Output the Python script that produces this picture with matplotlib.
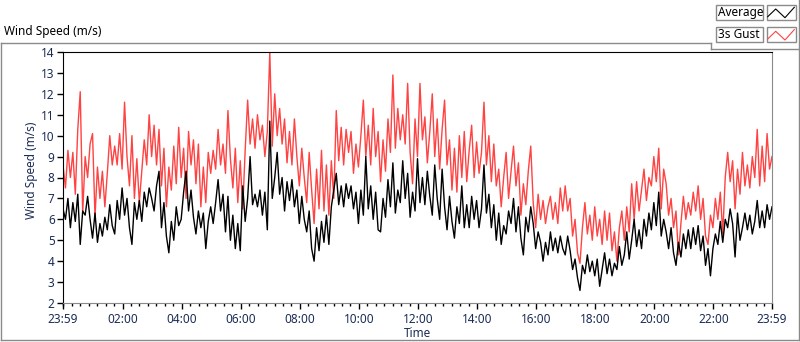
import matplotlib
matplotlib.use("Agg")
import matplotlib.pyplot as plt
import numpy as np
from matplotlib.lines import Line2D
from matplotlib.patches import Rectangle

plt.rcParams['font.family'] = ['Noto Sans', 'DejaVu Sans']

### Data: one reading every 5 minutes from 23:59 to 23:59 (one row = one hour)
step_min = 5

avg_speed = [
    6.5, 6.0, 7.0, 5.6, 6.8, 5.9, 7.2, 4.8, 6.4, 6.2, 7.1, 6.0,
    5.1, 6.3, 4.9, 5.8, 5.2, 6.1, 5.5, 6.7, 5.7, 5.3, 6.9, 6.0,
    7.5, 6.2, 7.0, 5.6, 4.8, 6.8, 6.0, 6.9, 5.9, 7.3, 6.6, 7.5,
    7.0, 6.4, 7.6, 8.3, 5.6, 6.8, 5.2, 4.4, 5.9, 5.0, 6.6, 5.7,
    6.0, 7.3, 8.3, 6.4, 7.4, 6.1, 5.3, 6.4, 5.6, 6.3, 4.6, 5.9,
    6.6, 5.8, 6.8, 7.9, 6.4, 7.2, 5.4, 7.1, 5.0, 6.2, 4.6, 5.8,
    4.5, 7.6, 5.9, 7.0, 9.0, 6.7, 7.2, 6.6, 7.4, 6.2, 7.3, 5.5,
    10.7, 7.0, 8.0, 9.2, 7.2, 8.0, 6.4, 7.8, 6.9, 7.9, 6.6, 7.4,
    5.8, 7.1, 6.0, 5.4, 6.4, 4.6, 4.0, 5.6, 4.5, 5.9, 4.9, 6.2,
    4.8, 6.6, 7.4, 8.2, 6.7, 7.6, 6.6, 7.7, 7.0, 7.6, 6.5, 7.3,
    5.8, 7.4, 6.2, 9.0, 6.5, 7.6, 6.0, 7.3, 5.5, 5.4, 7.0, 6.1,
    7.9, 6.6, 8.7, 6.3, 7.4, 6.8, 8.8, 7.0, 8.2, 6.1, 7.3, 6.4,
    8.9, 6.8, 8.0, 6.7, 8.3, 7.1, 6.2, 8.6, 7.0, 6.0, 8.4, 6.6,
    5.5, 7.1, 5.9, 5.1, 6.6, 5.8, 7.6, 5.6, 6.7, 5.6, 7.1, 6.0,
    6.9, 5.6, 6.5, 8.6, 6.3, 7.2, 5.6, 6.7, 5.0, 6.3, 4.8, 5.7,
    5.3, 6.4, 5.8, 7.0, 5.4, 6.6, 5.1, 4.3, 6.1, 5.4, 6.6, 5.8,
    4.6, 5.4, 4.9, 4.0, 4.9, 4.3, 5.4, 4.5, 5.1, 4.4, 5.2, 4.6,
    4.3, 5.2, 4.5, 3.6, 4.1, 3.2, 2.6, 3.8, 3.4, 4.3, 3.5, 4.0,
    3.3, 4.1, 2.8, 3.6, 4.4, 3.4, 4.1, 3.3, 3.9, 3.6, 4.7, 3.8,
    4.3, 5.4, 4.1, 5.0, 6.0, 4.7, 5.5, 4.6, 6.0, 5.2, 6.3, 5.5,
    6.8, 5.7, 7.3, 5.2, 6.0, 5.4, 4.6, 5.6, 4.4, 3.8, 4.9, 4.2,
    5.3, 4.6, 5.5, 4.6, 5.6, 4.8, 5.7, 4.5, 5.2, 3.8, 4.6, 3.3,
    4.6, 5.3, 4.8, 5.9, 4.9, 6.0, 5.6, 6.5, 5.8, 4.2, 6.3, 5.0,
    5.6, 6.3, 5.5, 6.2, 5.3, 5.9, 6.9, 5.6, 6.4, 5.6, 6.7, 6.0,
    6.6,
]

gust_speed = [
    8.6, 7.5, 9.3, 8.0, 9.2, 7.2, 10.3, 12.1, 6.3, 9.0, 8.0, 9.6,
    10.1, 6.1, 8.5, 7.0, 8.3, 6.6, 8.2, 10.0, 8.6, 9.5, 8.6, 10.1,
    8.4, 11.6, 9.0, 7.6, 10.0, 7.0, 8.9, 6.8, 8.3, 9.8, 8.6, 11.0,
    9.0, 10.5, 8.6, 10.3, 7.6, 9.4, 6.6, 8.5, 7.4, 9.5, 7.7, 10.4,
    8.0, 9.4, 7.0, 10.2, 8.6, 9.8, 7.7, 9.6, 6.6, 8.5, 6.8, 9.2,
    8.2, 9.3, 8.4, 10.3, 8.6, 9.6, 8.2, 11.2, 8.9, 7.5, 9.4, 6.8,
    8.8, 6.5, 9.3, 11.7, 9.6, 10.8, 9.4, 11.0, 9.8, 10.5, 9.0, 10.2,
    14.0, 9.5, 12.0, 10.0, 11.3, 9.6, 10.8, 8.7, 10.2, 8.6, 10.8, 9.0,
    7.6, 9.4, 8.0, 6.8, 9.2, 7.4, 5.8, 8.4, 6.5, 9.3, 6.4, 8.6,
    6.2, 8.8, 7.0, 11.2, 8.8, 10.4, 8.6, 10.3, 9.2, 10.2, 8.2, 9.6,
    8.5, 10.0, 11.7, 9.0, 10.5, 8.6, 11.3, 9.0, 10.2, 7.8, 9.8, 8.3,
    10.8, 9.2, 12.9, 9.4, 11.3, 9.8, 11.0, 9.6, 12.5, 9.2, 7.7, 10.8,
    9.0, 12.5, 9.8, 10.9, 8.7, 10.2, 12.0, 9.0, 10.8, 8.4, 10.3, 11.7,
    8.6, 9.8, 7.4, 9.4, 7.3, 10.0, 8.0, 10.2, 7.8, 9.3, 10.5, 8.0,
    9.7, 8.2, 9.2, 11.6, 8.6, 10.0, 7.8, 9.6, 7.6, 8.4, 6.6, 8.0,
    9.2, 7.0, 8.3, 9.5, 7.6, 8.7, 6.2, 7.7, 6.7, 8.3, 9.5, 6.8,
    5.6, 7.2, 6.0, 6.9, 5.8, 6.6, 7.1, 6.0, 6.8, 5.8, 7.5, 6.4,
    7.6, 6.4, 7.0, 5.2, 6.0, 4.4, 3.9, 5.6, 6.8, 5.3, 6.2, 5.0,
    6.6, 5.2, 6.0, 4.8, 6.4, 5.0, 6.3, 4.5, 5.4, 4.0, 5.6, 6.4,
    5.0, 6.6, 5.4, 7.7, 6.0, 7.8, 6.4, 7.4, 8.4, 6.9, 8.0, 7.6,
    9.0, 7.8, 9.4, 6.5, 8.4, 7.7, 6.2, 7.0, 5.6, 6.4, 4.3, 5.8,
    7.1, 6.0, 6.8, 6.2, 7.3, 6.4, 7.6, 6.0, 7.0, 5.2, 4.8, 6.2,
    5.6, 7.0, 6.0, 7.3, 5.3, 8.0, 9.2, 7.8, 8.8, 6.5, 8.4, 7.2,
    9.2, 7.6, 8.6, 7.5, 9.0, 8.0, 10.3, 7.6, 9.5, 7.8, 10.1, 8.4,
    9.0,
]

tick_labels = ['23:59', '02:00', '04:00', '06:00', '08:00', '10:00', '12:00',
               '14:00', '16:00', '18:00', '20:00', '22:00', '23:59']

# hours since 23:59
hours = np.arange(len(avg_speed)) * step_min / 60.0
tick_pos = [0.0] + [h + 1 / 60 for h in range(2, 24, 2)] + [24.0]
minor_pos = [1 / 60 + k * 2 / 7 for k in range(0, 84)]

navy = '#1c2c55'
red = '#ff4242'
W, H = 800, 342


def fx(px):
    return px / W


def fy(py):
    return 1 - py / H


fig = plt.figure(figsize=(8, 3.42), dpi=100)
fig.patch.set_facecolor('white')
ax = fig.add_axes([fx(63), fy(303), fx(772) - fx(63), fy(52) - fy(303)])

ax.plot(hours, gust_speed, color=red, linewidth=1.0)
ax.plot(hours, avg_speed, color='black', linewidth=1.0)

ax.set_xlim(0, 24)
ax.set_ylim(2, 14)
ax.set_yticks(range(2, 15))
ax.set_xticks(tick_pos)
ax.set_xticklabels(tick_labels)
ax.set_xticks(minor_pos, minor=True)
ax.tick_params(axis='both', which='major', direction='out', length=4, width=1,
               colors='black', labelcolor=navy, labelsize=8.5)
ax.tick_params(axis='x', which='minor', direction='out', length=2.5, width=1, color='black')
ax.tick_params(axis='x', pad=3)
ax.tick_params(axis='y', pad=2)

for side in ['left', 'top']:
    ax.spines[side].set_color('black')
for side in ['right', 'bottom']:
    ax.spines[side].set_color('#8a8a8a')

ax.set_xlabel('Time', color=navy, fontsize=8.5, labelpad=1)
fig.text(fx(32), fy(170), 'Wind Speed (m/s)', rotation=90, color=navy,
         fontsize=8.5, ha='center', va='center')

# graph title and frame
fig.text(fx(4), fy(32), 'Wind Speed (m/s)', color='black', fontsize=8.5, ha='left', va='center')
frame = [((1, 42.5), (711, 42.5)), ((711, 42.5), (711, 49)), ((711, 49), (799, 49)),
         ((799, 0), (799, 340)), ((1, 42.5), (1, 340)), ((1, 339.5), (799, 339.5))]
for (x0, y0), (x1, y1) in frame:
    fig.add_artist(Line2D([fx(x0), fx(x1)], [fy(y0), fy(y1)], color='#8a8a8a', linewidth=1))

# legend boxes
for i, (name, col) in enumerate([('Average', 'black'), ('3s Gust', red)]):
    top = 4.5 + i * 22.3
    fig.add_artist(Rectangle((fx(715.5), fy(top + 15.5)), fx(47), 15.5 / H,
                             facecolor='white', edgecolor='#8a8a8a', linewidth=1))
    fig.text(fx(718), fy(top + 8), name, color='black', fontsize=8.5, ha='left', va='center')
    fig.add_artist(Rectangle((fx(766.5), fy(top + 15.5)), fx(29.5), 15.5 / H,
                             facecolor='white', edgecolor='#8a8a8a', linewidth=1))
    sx = [767.7, 775.7, 785, 794.3]
    sy = [top + 12.2, top + 4.5, top + 13.2, top + 2.8]
    fig.add_artist(Line2D([fx(v) for v in sx], [fy(v) for v in sy], color=col, linewidth=0.8))

fig.savefig('out.png', dpi=100)
